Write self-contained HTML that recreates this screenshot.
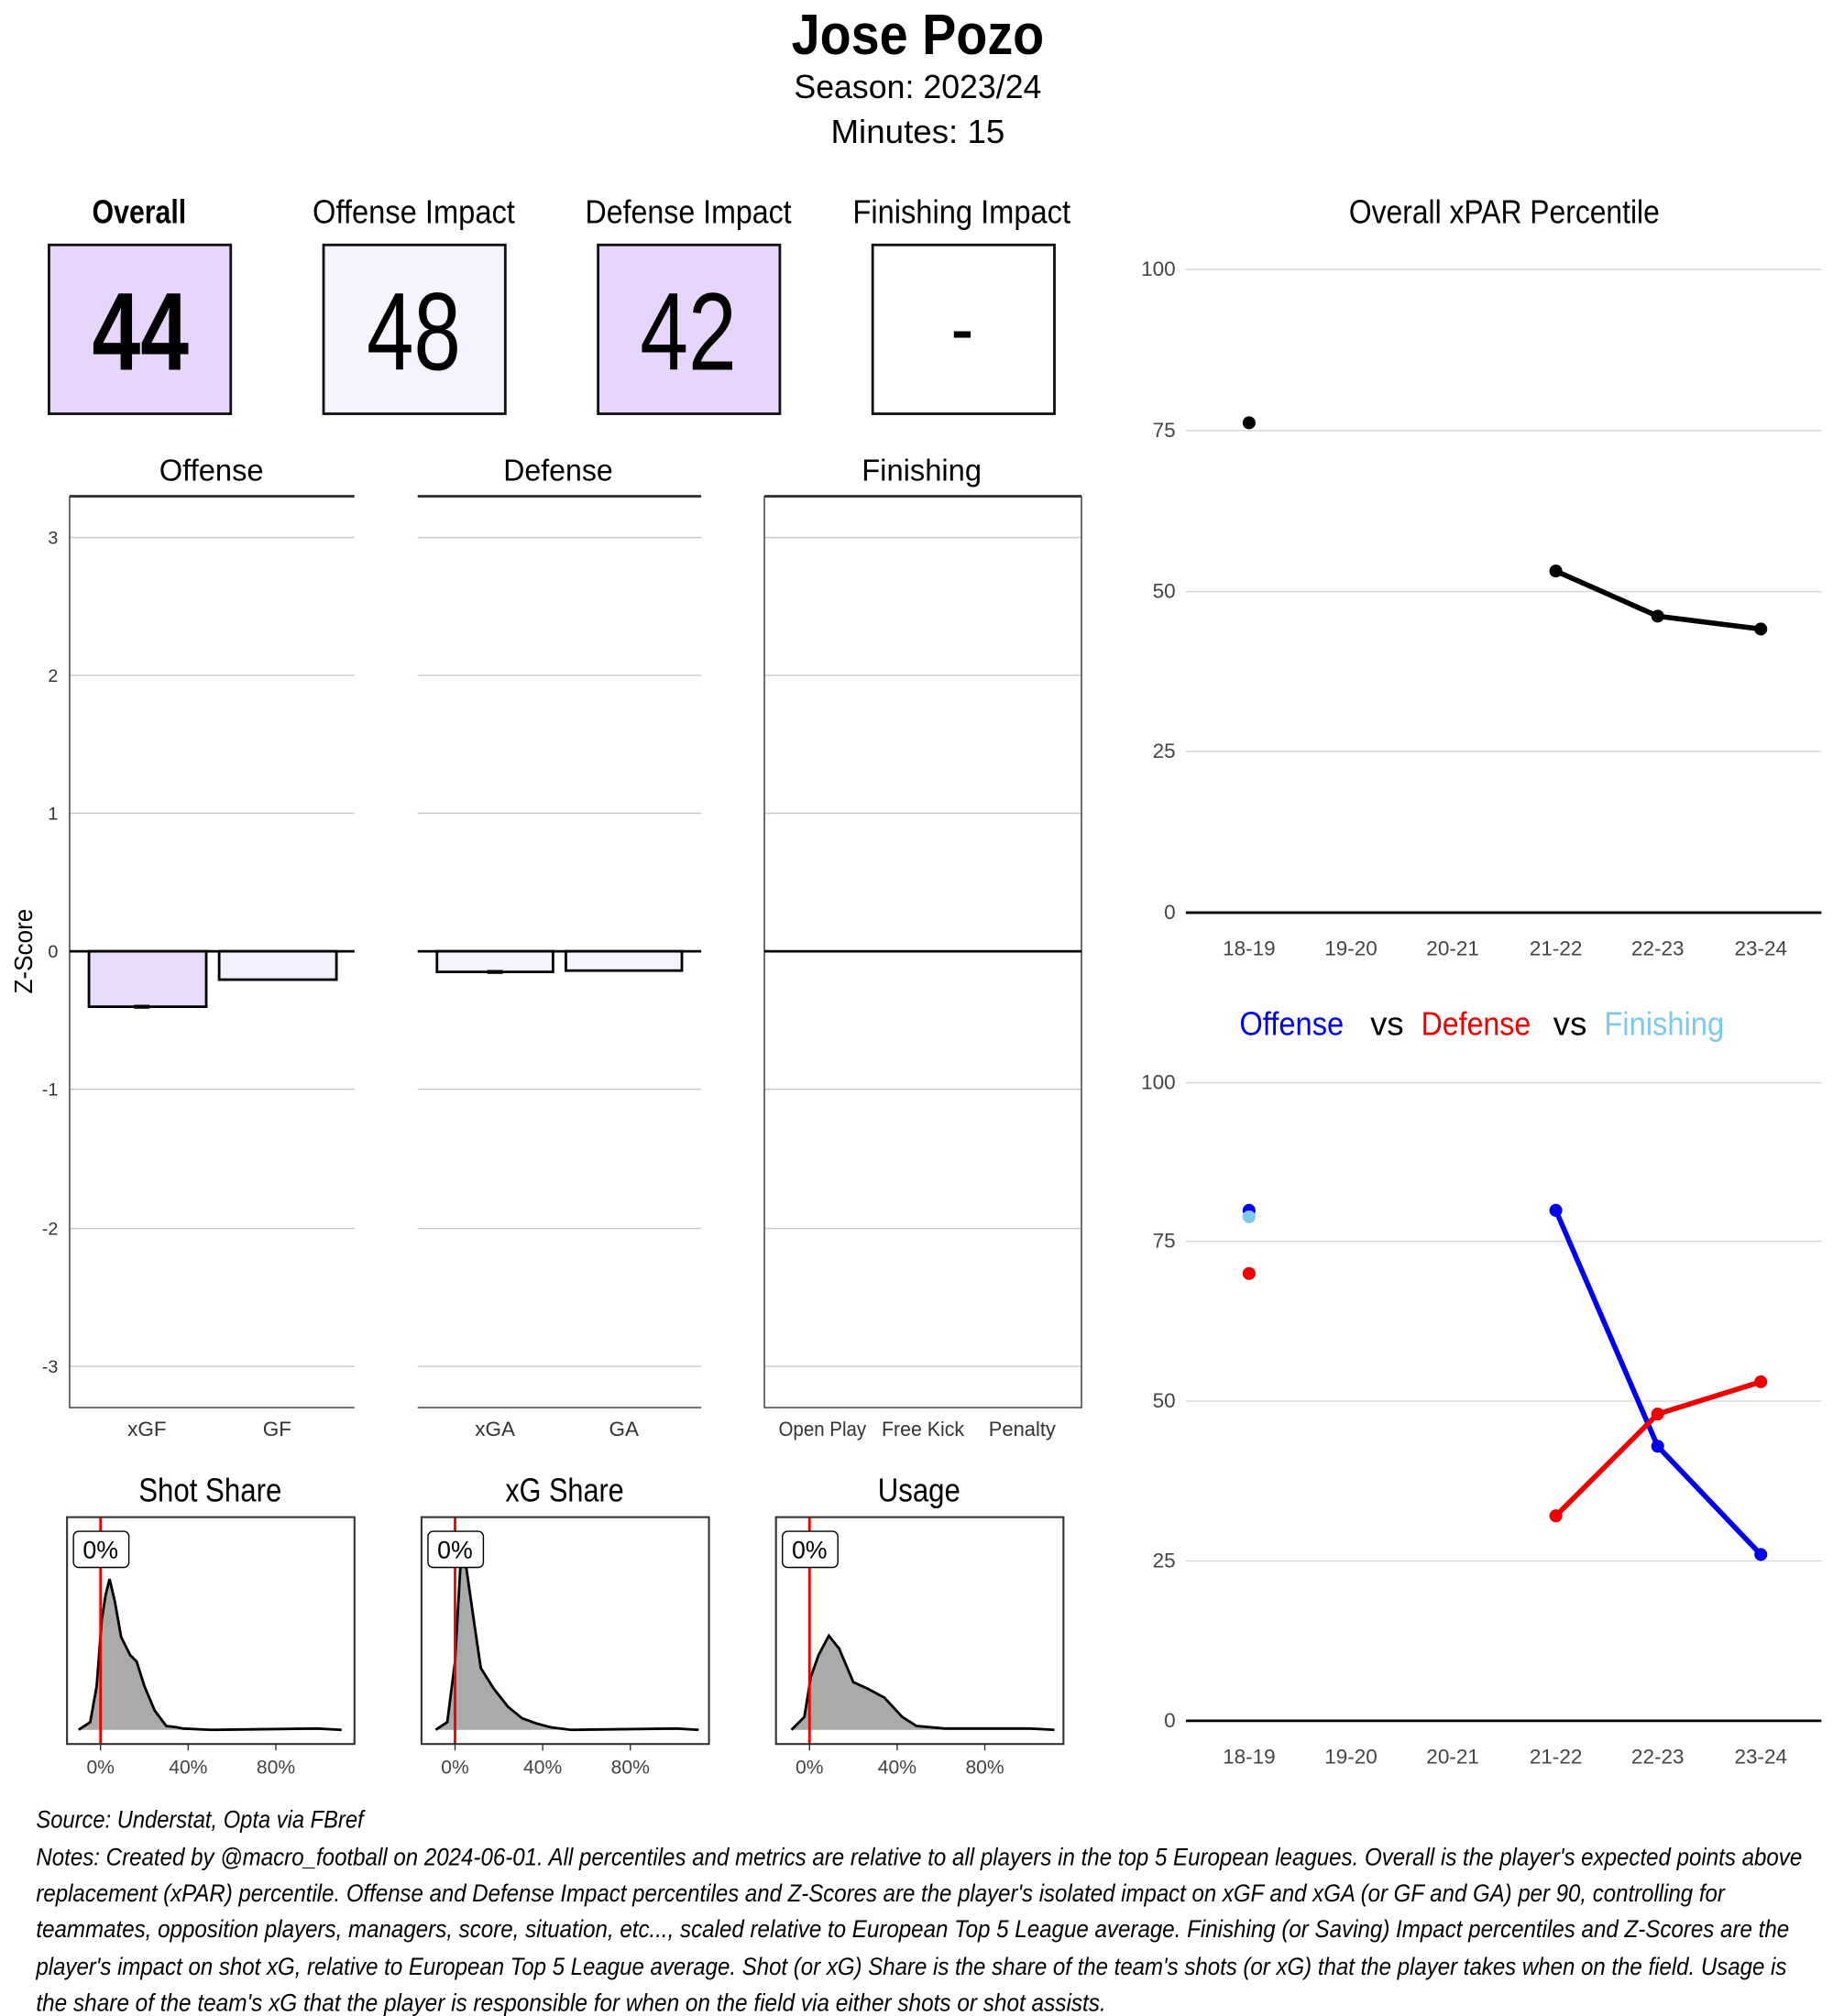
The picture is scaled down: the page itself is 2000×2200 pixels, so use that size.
<!DOCTYPE html>
<html><head><meta charset="utf-8"><style>html,body{margin:0;padding:0;background:#fff}svg{display:block}</style></head>
<body>
<svg xmlns="http://www.w3.org/2000/svg" width="2000" height="2200" viewBox="0 0 1422 1564" preserveAspectRatio="none" font-family="Liberation Sans, sans-serif">
<rect width="1422" height="1564" fill="#fff"/>
<g text-anchor="middle" lengthAdjust="spacingAndGlyphs">
<text x="712" y="42" font-size="44" font-weight="bold" textLength="196" lengthAdjust="spacingAndGlyphs">Jose Pozo</text>
<text x="712" y="76" font-size="26" textLength="192" lengthAdjust="spacingAndGlyphs">Season:  2023/24</text>
<text x="712" y="111" font-size="26" textLength="135" lengthAdjust="spacingAndGlyphs">Minutes:  15</text>
<text x="108" y="173" font-size="26" font-weight="bold" textLength="73" lengthAdjust="spacingAndGlyphs">Overall</text>
<text x="321" y="173" font-size="26" textLength="157" lengthAdjust="spacingAndGlyphs">Offense Impact</text>
<text x="534" y="173" font-size="26" textLength="160" lengthAdjust="spacingAndGlyphs">Defense Impact</text>
<text x="746" y="173" font-size="26" textLength="169" lengthAdjust="spacingAndGlyphs">Finishing Impact</text>
<text x="1167" y="173" font-size="26" textLength="241" lengthAdjust="spacingAndGlyphs">Overall xPAR Percentile</text>
</g>
<g stroke="#111" stroke-width="2">
<rect x="38" y="190" width="141" height="131" fill="#e8d5fc"/>
<rect x="251" y="190" width="141" height="131" fill="#f6f3fe"/>
<rect x="464" y="190" width="141" height="131" fill="#e8d5fc"/>
<rect x="677" y="190" width="141" height="131" fill="#fff"/>
</g>
<g text-anchor="middle" font-size="86">
<text x="109" y="287" font-weight="bold" textLength="75" lengthAdjust="spacingAndGlyphs">44</text>
<text x="321" y="287" textLength="73" lengthAdjust="spacingAndGlyphs">48</text>
<text x="534" y="287" textLength="75" lengthAdjust="spacingAndGlyphs">42</text>
</g>
<rect x="740" y="257" width="13" height="5" fill="#000"/>
<!-- facet titles -->
<g text-anchor="middle" font-size="24">
<text x="164" y="373" textLength="81" lengthAdjust="spacingAndGlyphs">Offense</text>
<text x="433" y="373" textLength="85" lengthAdjust="spacingAndGlyphs">Defense</text>
<text x="715" y="373" textLength="93" lengthAdjust="spacingAndGlyphs">Finishing</text>
</g>
<!-- gridlines -->
<g stroke="#c8c8c8" stroke-width="1">
<path d="M54 417H275M54 524H275M54 631H275M54 845H275M54 953H275M54 1060H275"/>
<path d="M324 417H544M324 524H544M324 631H544M324 845H544M324 953H544M324 1060H544"/>
<path d="M593 417H839M593 524H839M593 631H839M593 845H839M593 953H839M593 1060H839"/>
</g>
<g stroke="#333" stroke-width="1" fill="none">
<path d="M54 385V1092H275"/>
<path d="M324 1092H544"/>
<path d="M593 385V1092H839V385"/>
</g>
<g stroke="#333" stroke-width="2"><path d="M54 385H275M324 385H544M593 385H839"/></g>
<g font-size="14" text-anchor="end" fill="#333">
<text x="45" y="422">3</text><text x="45" y="529">2</text><text x="45" y="636">1</text><text x="45" y="743">0</text>
<text x="45" y="850">-1</text><text x="45" y="958">-2</text><text x="45" y="1065">-3</text>
</g>
<text transform="translate(25,738) rotate(-90)" text-anchor="middle" font-size="20" textLength="66" lengthAdjust="spacingAndGlyphs">Z-Score</text>
<g stroke="#000" stroke-width="2">
<rect x="69" y="738" width="91" height="43" fill="#e8dcfa"/>
<rect x="170" y="738" width="91" height="22" fill="#f2f0fd"/>
<rect x="339" y="738" width="90" height="16" fill="#f6f3fe"/>
<rect x="439" y="738" width="90" height="15" fill="#f6f3fe"/>
<path d="M54 738H275M324 738H544M593 738H839"/>
<path d="M104 781H116M378 754H390" stroke-width="3"/>
</g>
<g font-size="16" text-anchor="middle" fill="#333">
<text x="114" y="1114">xGF</text><text x="215" y="1114">GF</text>
<text x="384" y="1114">xGA</text><text x="484" y="1114">GA</text>
<text x="638" y="1114" textLength="68" lengthAdjust="spacingAndGlyphs">Open Play</text>
<text x="716" y="1114" textLength="64" lengthAdjust="spacingAndGlyphs">Free Kick</text>
<text x="793" y="1114" textLength="52" lengthAdjust="spacingAndGlyphs">Penalty</text>
</g>
<!-- density panels -->
<g text-anchor="middle" font-size="26">
<text x="163" y="1165" textLength="111" lengthAdjust="spacingAndGlyphs">Shot Share</text>
<text x="438" y="1165" textLength="92" lengthAdjust="spacingAndGlyphs">xG Share</text>
<text x="713" y="1165" textLength="64" lengthAdjust="spacingAndGlyphs">Usage</text>
</g>
<g fill="#aaa" stroke="none">
<path d="M61 1342 70 1336 75 1308 79 1256 82 1237 85 1225 89 1242 94 1270 101 1284 106 1289 112 1308 120 1327 129 1339 137 1340 142 1341 164 1342 246 1341 265 1342Z"/>
<path d="M338 1342 347 1336 353 1289 357 1218 359 1206 362 1218 368 1260 373 1294 383 1310 394 1324 405 1333 416 1337 427 1340 443 1342 525 1341 542 1342Z"/>
<path d="M614 1342 624 1332 629 1301 635 1284 643 1269 651 1279 662 1305 673 1310 686 1317 700 1332 711 1339 733 1341 799 1341 818 1342Z"/>
</g>
<g fill="none" stroke="#000" stroke-width="2">
<path d="M61 1342 70 1336 75 1308 79 1256 82 1237 85 1225 89 1242 94 1270 101 1284 106 1289 112 1308 120 1327 129 1339 137 1340 142 1341 164 1342 246 1341 265 1342"/>
<path d="M338 1342 347 1336 353 1289 357 1218 359 1206 362 1218 368 1260 373 1294 383 1310 394 1324 405 1333 416 1337 427 1340 443 1342 525 1341 542 1342"/>
<path d="M614 1342 624 1332 629 1301 635 1284 643 1269 651 1279 662 1305 673 1310 686 1317 700 1332 711 1339 733 1341 799 1341 818 1342"/>
</g>
<g stroke="#e00" stroke-width="2"><path d="M78 1177V1353M353 1177V1353M628 1177V1353"/></g>
<g fill="none" stroke="#333" stroke-width="1.5">
<rect x="52" y="1177" width="223" height="176"/><rect x="327" y="1177" width="223" height="176"/><rect x="602" y="1177" width="223" height="176"/>
</g>
<g fill="#fff" stroke="#000" stroke-width="1">
<rect x="57" y="1188" width="43" height="28" rx="4"/><rect x="332" y="1188" width="43" height="28" rx="4"/><rect x="607" y="1188" width="43" height="28" rx="4"/>
</g>
<g text-anchor="middle" font-size="19">
<text x="78" y="1209">0%</text><text x="353" y="1209">0%</text><text x="628" y="1209">0%</text>
</g>
<g stroke="#333"><path d="M78 1353v5M146 1353v5M214 1353v5M353 1353v5M421 1353v5M489 1353v5M628 1353v5M696 1353v5M764 1353v5"/></g>
<g text-anchor="middle" font-size="15" fill="#444">
<text x="78" y="1376">0%</text><text x="146" y="1376">40%</text><text x="214" y="1376">80%</text>
<text x="353" y="1376">0%</text><text x="421" y="1376">40%</text><text x="489" y="1376">80%</text>
<text x="628" y="1376">0%</text><text x="696" y="1376">40%</text><text x="764" y="1376">80%</text>
</g>
<!-- right top chart -->
<g stroke="#d6d6d6" stroke-width="1"><path d="M920 209H1413M920 334H1413M920 459H1413M920 583H1413"/></g>
<path d="M920 708H1413" stroke="#000" stroke-width="2"/>
<g font-size="16" text-anchor="end" fill="#444">
<text x="912" y="214">100</text><text x="912" y="339">75</text><text x="912" y="464">50</text><text x="912" y="588">25</text><text x="912" y="713">0</text>
</g>
<g font-size="16" text-anchor="middle" fill="#444">
<text x="969" y="741">18-19</text><text x="1048" y="741">19-20</text><text x="1127" y="741">20-21</text><text x="1207" y="741">21-22</text><text x="1286" y="741">22-23</text><text x="1366" y="741">23-24</text>
</g>
<polyline points="1207,443 1286,478 1366,488" fill="none" stroke="#000" stroke-width="4"/>
<g fill="#000"><circle cx="969" cy="328" r="5"/><circle cx="1207" cy="443" r="5"/><circle cx="1286" cy="478" r="5"/><circle cx="1366" cy="488" r="5"/></g>
<!-- right bottom chart -->
<g font-size="26" text-anchor="middle">
<text x="1002" y="803" fill="#0000ee" textLength="81" lengthAdjust="spacingAndGlyphs">Offense</text>
<text x="1076" y="803">vs</text>
<text x="1145" y="803" fill="#ee0000" textLength="85" lengthAdjust="spacingAndGlyphs">Defense</text>
<text x="1218" y="803">vs</text>
<text x="1291" y="803" fill="#7ec8ea" textLength="93" lengthAdjust="spacingAndGlyphs">Finishing</text>
</g>
<g stroke="#d6d6d6" stroke-width="1"><path d="M920 840H1413M920 963H1413M920 1087H1413M920 1211H1413"/></g>
<path d="M920 1335H1413" stroke="#000" stroke-width="2"/>
<g font-size="16" text-anchor="end" fill="#444">
<text x="912" y="845">100</text><text x="912" y="968">75</text><text x="912" y="1092">50</text><text x="912" y="1216">25</text><text x="912" y="1340">0</text>
</g>
<g font-size="16" text-anchor="middle" fill="#444">
<text x="969" y="1368">18-19</text><text x="1048" y="1368">19-20</text><text x="1127" y="1368">20-21</text><text x="1207" y="1368">21-22</text><text x="1286" y="1368">22-23</text><text x="1366" y="1368">23-24</text>
</g>
<polyline points="1207,939 1286,1122 1366,1206" fill="none" stroke="#0000ee" stroke-width="4"/>
<polyline points="1207,1176 1286,1097 1366,1072" fill="none" stroke="#ee0000" stroke-width="4"/>
<g fill="#0000ee"><circle cx="969" cy="939" r="5"/><circle cx="1207" cy="939" r="5"/><circle cx="1286" cy="1122" r="5"/><circle cx="1366" cy="1206" r="5"/></g>
<circle cx="969" cy="944" r="5" fill="#7ec8ea"/>
<g fill="#ee0000"><circle cx="969" cy="988" r="5"/><circle cx="1207" cy="1176" r="5"/><circle cx="1286" cy="1097" r="5"/><circle cx="1366" cy="1072" r="5"/></g>
<!-- footer -->
<g font-size="19" font-style="italic">
<text x="28" y="1418" textLength="254" lengthAdjust="spacingAndGlyphs">Source: Understat, Opta via FBref</text>
<text x="28" y="1447" textLength="1370" lengthAdjust="spacingAndGlyphs">Notes: Created by @macro_football on 2024-06-01. All percentiles and metrics are relative to all players in the top 5 European leagues. Overall is the player's expected points above</text>
<text x="28" y="1475" textLength="1310" lengthAdjust="spacingAndGlyphs">replacement (xPAR) percentile. Offense and Defense Impact percentiles and Z-Scores are the player's isolated impact on xGF and xGA (or GF and GA) per 90, controlling for</text>
<text x="28" y="1503" textLength="1360" lengthAdjust="spacingAndGlyphs">teammates, opposition players, managers, score, situation, etc..., scaled relative to European Top 5 League average. Finishing (or Saving) Impact percentiles and Z-Scores are the</text>
<text x="28" y="1532" textLength="1358" lengthAdjust="spacingAndGlyphs">player's impact on shot xG, relative to European Top 5 League average. Shot (or xG) Share is the share of the team's shots (or xG) that the player takes when on the field. Usage is</text>
<text x="28" y="1560" textLength="830" lengthAdjust="spacingAndGlyphs">the share of the team's xG that the player is responsible for when on the field via either shots or shot assists.</text>
</g>
</svg>
</body></html>
